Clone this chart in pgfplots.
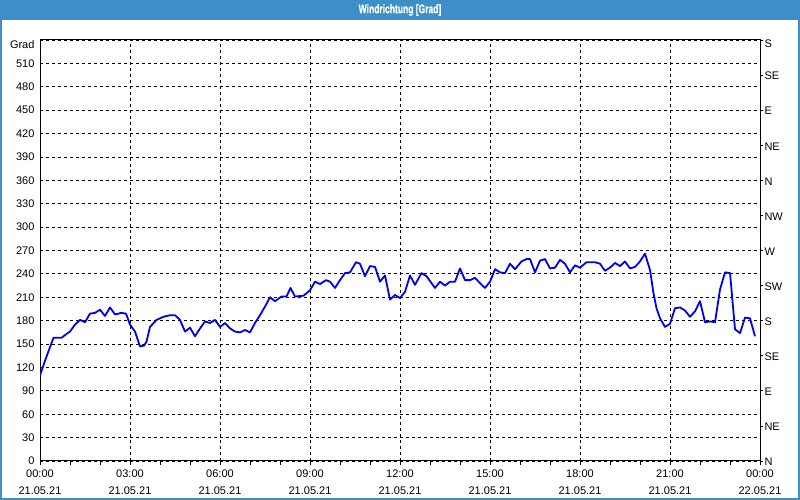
\documentclass[border=0pt]{standalone}
\usepackage{fontspec}
\setmainfont{Liberation Sans}
\newfontfamily\titlefont{Liberation Sans Bold}[FakeStretch=0.68, FakeBold=0.6]
\usepackage{pgfplots}
\pgfplotsset{compat=1.18}
\definecolor{barblue}{RGB}{60,143,199}
\definecolor{lineblue}{RGB}{0,0,240}
\pgfplotstableread{
t d
0 110
13 134
27 158
43 158
53 163
60 166
70 175
80 181
90 178
100 189
110 190
120 194
130 186
140 197
150 188
163 190
172 189
180 175
190 166
200 147
208 148
213 153
220 172
233 181
247 185
260 187
270 187
280 181
290 166
300 171
310 160
320 170
330 179
340 177
350 181
360 172
370 177
380 170
390 166
400 165
410 168
420 165
430 177
440 187
450 198
460 210
470 205
483 211
493 211
501 222
510 211
527 212
540 219
550 230
560 227
572 232
580 230
590 222
600 232
610 241
620 242
632 255
640 253
650 237
660 250
670 249
680 230
690 238
700 207
710 213
720 209
730 217
740 238
750 226
763 241
773 237
790 222
800 230
810 225
820 230
830 230
840 247
850 232
860 232
870 235
880 228
890 222
900 230
910 246
920 242
930 241
940 253
950 246
963 256
973 259
980 259
990 242
1000 257
1010 259
1020 247
1030 248
1040 258
1050 253
1060 242
1070 251
1080 248
1093 255
1110 255
1120 253
1130 244
1140 248
1150 254
1160 250
1170 256
1180 247
1190 249
1200 256
1210 266
1220 245
1227 215
1233 196
1240 183
1250 172
1260 176
1270 196
1280 197
1290 193
1300 185
1310 192
1320 205
1330 178
1340 179
1350 178
1360 220
1370 242
1380 241
1390 169
1400 164
1410 184
1420 183
1430 160
}\winddata
\begin{document}
\begin{tikzpicture}
\path[use as bounding box] (0pt,0pt) rectangle (800pt,500pt);
\fill[white] (0pt,0pt) rectangle (800pt,500pt);
\fill[barblue] (0pt,480pt) rectangle (800pt,500pt);
\draw[barblue, line width=2pt] (1pt,1pt) rectangle (799pt,499pt);
\node[text=white, font=\titlefont\fontsize{12.5}{13}\selectfont] at (400pt,490pt) {Windrichtung [Grad]};
\begin{axis}[
  at={(40pt,39pt)}, anchor=south west,
  scale only axis, width=720pt, height=421pt,
  xmin=0, xmax=1440, ymin=0, ymax=540,
  xtick={0,180,...,1440},
  minor x tick num=2,
  xticklabels={{00:00\\21.05.21},{03:00\\21.05.21},{06:00\\21.05.21},{09:00\\21.05.21},{12:00\\21.05.21},{15:00\\21.05.21},{18:00\\21.05.21},{21:00\\21.05.21},{00:00\\22.05.21}},
  xticklabel style={align=center, font=\fontsize{11}{17}\selectfont, yshift=-1pt},
  ytick={0,30,...,540},
  yticklabels={0,30,60,90,120,150,180,210,240,270,300,330,360,390,420,450,480,510,\raisebox{-5pt}[\height][\depth]{Grad}},
  yticklabel style={font=\fontsize{11}{12}\selectfont, xshift=2pt},
  tick align=outside,
  major tick length=4pt, minor tick length=4pt,
  ytick style={draw=none},
  xtick style={black, line width=0.8pt},
  grid=major,
  major grid style={black, line width=0.8pt, dash pattern=on 3pt off 3pt},
  axis line style={black, line width=1pt},
  xtick pos=bottom, ytick pos=left,
]
\addplot[lineblue, line width=1.8pt, line join=round] table[x=t,y=d] {\winddata};
\end{axis}
\begin{axis}[
  at={(40pt,39pt)}, anchor=south west,
  scale only axis, width=720pt, height=421pt,
  xmin=0, xmax=1440, ymin=0, ymax=540,
  axis y line*=right,
  axis x line=none,
  ytick={0,45,...,540},
  yticklabels={N,NE,E,SE,S,SW,W,NW,N,NE,E,SE,\raisebox{-3pt}[\height][\depth]{S}},
  yticklabel style={font=\fontsize{11}{12}\selectfont, xshift=-2pt, yshift=-1pt},
  tick align=outside,
  major tick length=3pt,
  ytick style={black, line width=0.8pt},
  axis line style={black, line width=1pt},
]
\addplot[draw=none] coordinates {(0,0)};
\end{axis}
\end{tikzpicture}
\end{document}
